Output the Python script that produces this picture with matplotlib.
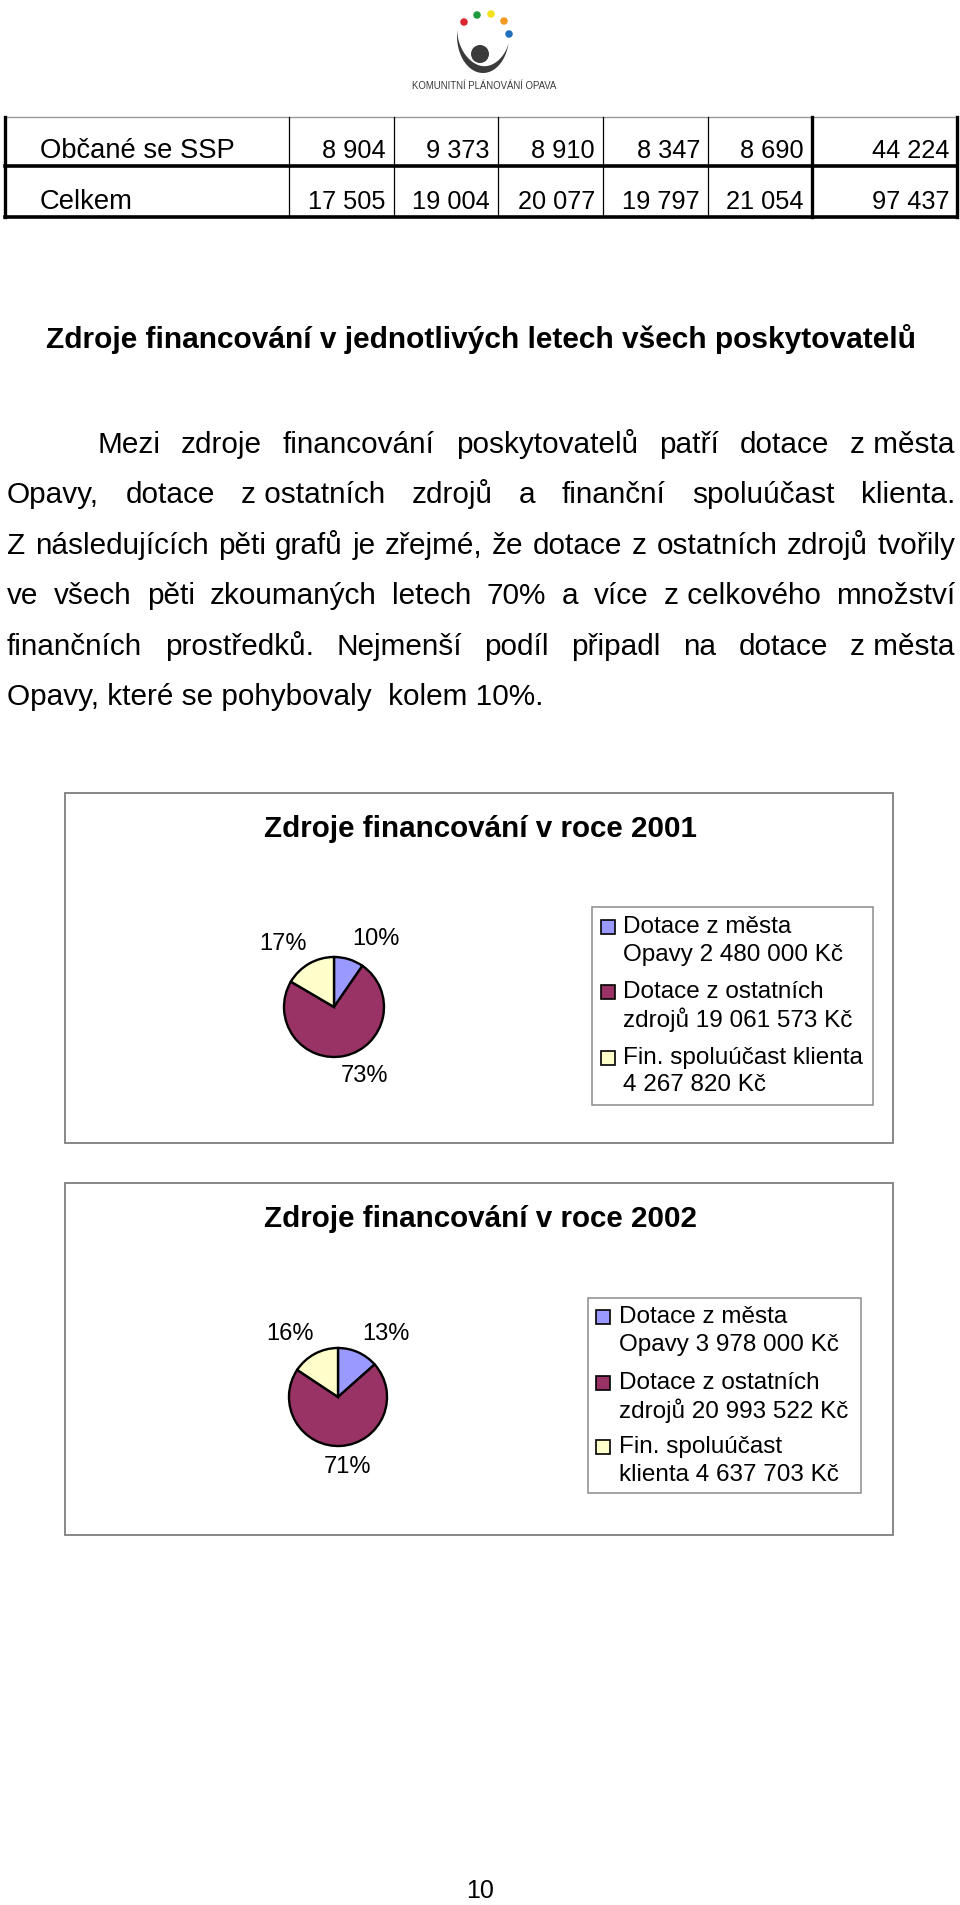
import matplotlib
matplotlib.use("Agg")
import matplotlib.pyplot as plt
import matplotlib.patches as mpatches
import numpy as np

plt.rcParams['font.family'] = ['Liberation Sans', 'DejaVu Sans']

# ---------------- data ----------------
table_rows = ["Občané se SSP", "Celkem"]
table_values = [
    ["8 904", "9 373", "8 910", "8 347", "8 690", "44 224"],
    ["17 505", "19 004", "20 077", "19 797", "21 054", "97 437"],
]

heading = "Zdroje financování v jednotlivých letech všech poskytovatelů"
paragraph_lines = [
    ["Mezi", "zdroje", "financování", "poskytovatelů", "patří", "dotace", "z\u00a0města"],
    ["Opavy,", "dotace", "z\u00a0ostatních", "zdrojů", "a", "finanční", "spoluúčast", "klienta."],
    ["Z", "následujících", "pěti", "grafů", "je", "zřejmé,", "že", "dotace", "z", "ostatních", "zdrojů", "tvořily"],
    ["ve", "všech", "pěti", "zkoumaných", "letech", "70%", "a", "více", "z\u00a0celkového", "množství"],
    ["finančních", "prostředků.", "Nejmenší", "podíl", "připadl", "na", "dotace", "z\u00a0města"],
    ["Opavy, které se pohybovaly  kolem 10%."],
]

titles = ["Zdroje financování v roce 2001", "Zdroje financování v roce 2002"]
categories = ["Dotace z města", "Dotace z ostatních zdrojů", "Fin. spoluúčast klienta"]
values_2001 = [2480000, 19061573, 4267820]
values_2002 = [3978000, 20993522, 4637703]
pct_2001 = ["10%", "73%", "17%"]
pct_2002 = ["13%", "71%", "16%"]
legend_2001 = ["Dotace z města\nOpavy 2 480 000 Kč",
               "Dotace z ostatních\nzdrojů 19 061 573 Kč",
               "Fin. spoluúčast klienta\n4 267 820 Kč"]
legend_2002 = ["Dotace z města\nOpavy 3 978 000 Kč",
               "Dotace z ostatních\nzdrojů 20 993 522 Kč",
               "Fin. spoluúčast\nklienta 4 637 703 Kč"]
page_number = "10"

colors = ["#9999FF", "#993366", "#FFFFCC"]

# ---------------- figure ----------------
W, H = 960, 1905
fig = plt.figure(figsize=(W / 100, H / 100), dpi=100)
page = fig.add_axes([0, 0, 1, 1])
page.set_xlim(0, W)
page.set_ylim(H, 0)
page.axis("off")

# ---------------- logo ----------------
dark = "#3b3b3b"
dots = [((464, 22), "#d9262c"), ((477, 15), "#1f9a3c"), ((491, 14), "#f4e01c"),
        ((504, 21), "#f29a1f"), ((509, 34), "#1e6fbf")]
for (x, y), c in dots:
    page.add_patch(mpatches.Ellipse((x, y), 7.5, 7.5, color=c, lw=0))
cx, cy, rx, ry = 483, 36, 26, 37
n = 80
t = np.linspace(np.radians(170), np.radians(350), n)
ox = cx + rx * np.cos(t)
oy = cy - ry * np.sin(t)
w = 7.0 * np.sin(np.linspace(0, np.pi, n)) ** 1.3
ix = cx + (rx - w) * np.cos(t)
iy = cy - (ry - w) * np.sin(t)
poly = np.vstack([np.column_stack([ox, oy]), np.column_stack([ix, iy])[::-1]])
page.add_patch(mpatches.Polygon(poly, closed=True, color=dark, lw=0))
page.add_patch(mpatches.Ellipse((480, 54), 18, 18, color=dark, lw=0))
page.text(484, 86, "KOMUNITNÍ PLÁNOVÁNÍ OPAVA", fontsize=6.9, color=dark,
          ha="center", va="center")

# ---------------- table ----------------
left_x, right_x = 5, 957
seps = [289, 394, 498, 603, 708, 812]
top_y, mid_y, bot_y = 117, 166, 217
page.plot([left_x, right_x], [top_y, top_y], color="#9a9a9a", lw=1.0)
page.plot([left_x, right_x], [mid_y, mid_y], color="black", lw=2.6)
page.plot([left_x, right_x], [bot_y, bot_y], color="black", lw=2.6)
page.plot([left_x, left_x], [top_y, bot_y], color="black", lw=2.4)
page.plot([right_x, right_x], [top_y, bot_y], color="black", lw=2.4)
for i, s in enumerate(seps):
    lw = 2.4 if i == len(seps) - 1 else 0.9
    page.plot([s, s], [top_y, bot_y], color="black", lw=lw)
row_base = [158, 209]
for r, (name, vals) in enumerate(zip(table_rows, table_values)):
    page.text(40, row_base[r], name, fontsize=19.7, va="baseline", ha="left")
    rights = seps[1:] + [right_x]
    for c, v in enumerate(vals):
        page.text(rights[c] - 8, row_base[r], v, fontsize=18.3, va="baseline", ha="right")

# ---------------- heading + paragraph ----------------
page.text(46, 348, heading, fontsize=21.5, fontweight="bold", va="baseline", ha="left")

renderer = fig.canvas.get_renderer()
line_base = [453, 503, 554, 604, 655, 705]
line_left = [97, 7, 7, 7, 7, 7]
line_right = 955
fs_par = 21.4
for k, words in enumerate(paragraph_lines):
    y = line_base[k]
    if len(words) == 1:
        page.text(line_left[k], y, words[0], fontsize=fs_par, va="baseline", ha="left")
        continue
    texts = [page.text(0, y, wd, fontsize=fs_par, va="baseline", ha="left") for wd in words]
    widths = [tx.get_window_extent(renderer).width for tx in texts]
    gap = (line_right - line_left[k] - sum(widths)) / (len(words) - 1)
    x = line_left[k]
    for tx, wdt in zip(texts, widths):
        tx.set_x(x)
        x += wdt + gap

# ---------------- pie charts ----------------
charts = [
    dict(values=values_2001, pct=pct_2001, legend=legend_2001, title=titles[0],
         box=(65, 793, 893, 1143), title_y=837, center=(334, 1007), r=51,
         pct_pos=[(0.84, 1.37), (0.61, -1.37), (-1.02, 1.27)],
         lbox=(592, 907, 873, 1105), sq_x=601, txt_x=623,
         lines=[(927, 955), (992, 1020), (1058, 1085)]),
    dict(values=values_2002, pct=pct_2002, legend=legend_2002, title=titles[1],
         box=(65, 1183, 893, 1535), title_y=1227, center=(338, 1397), r=50,
         pct_pos=[(0.98, 1.28), (0.2, -1.42), (-0.98, 1.28)],
         lbox=(588, 1298, 861, 1493), sq_x=596, txt_x=619,
         lines=[(1317, 1345), (1383, 1411), (1447, 1475)]),
]

for ch in charts:
    x0, y0, x1, y1 = ch["box"]
    page.add_patch(mpatches.Rectangle((x0, y0), x1 - x0, y1 - y0, fill=False,
                                      edgecolor="#7f7f7f", lw=1.3))
    page.text((x0 + x1) / 2 + 1.5, ch["title_y"], ch["title"], fontsize=21.3,
              fontweight="bold", ha="center", va="baseline")
    cxp, cyp = ch["center"]
    r = ch["r"]
    ax = fig.add_axes([(cxp - r) / W, 1 - (cyp + r) / H, 2 * r / W, 2 * r / H])
    wedges, _ = ax.pie(ch["values"], colors=colors, startangle=90, counterclock=False,
                       wedgeprops=dict(edgecolor="black", linewidth=1.7))
    ax.set_xlim(-1.02, 1.02)
    ax.set_ylim(-1.02, 1.02)
    ax.axis("off")
    for lab, (px, py) in zip(ch["pct"], ch["pct_pos"]):
        ax.text(px, py, lab, fontsize=17, ha="center", va="center", clip_on=False)
    # legend
    lx0, ly0, lx1, ly1 = ch["lbox"]
    page.add_patch(mpatches.Rectangle((lx0, ly0), lx1 - lx0, ly1 - ly0, fill=False,
                                      edgecolor="#8c8c8c", lw=1.1))
    for wdg, lab, (l1, l2) in zip(wedges, ch["legend"], ch["lines"]):
        page.add_patch(mpatches.Rectangle((ch["sq_x"], l1 - 7), 14, 14,
                                          facecolor=wdg.get_facecolor(),
                                          edgecolor="black", lw=1.2))
        first, second = lab.split("\n")
        page.text(ch["txt_x"], l1, first, fontsize=17.5, ha="left", va="center")
        page.text(ch["txt_x"], l2, second, fontsize=17.5, ha="left", va="center")

page.text(480, 1891, page_number, fontsize=18, ha="center", va="center")

fig.savefig("out.png", dpi=100)
